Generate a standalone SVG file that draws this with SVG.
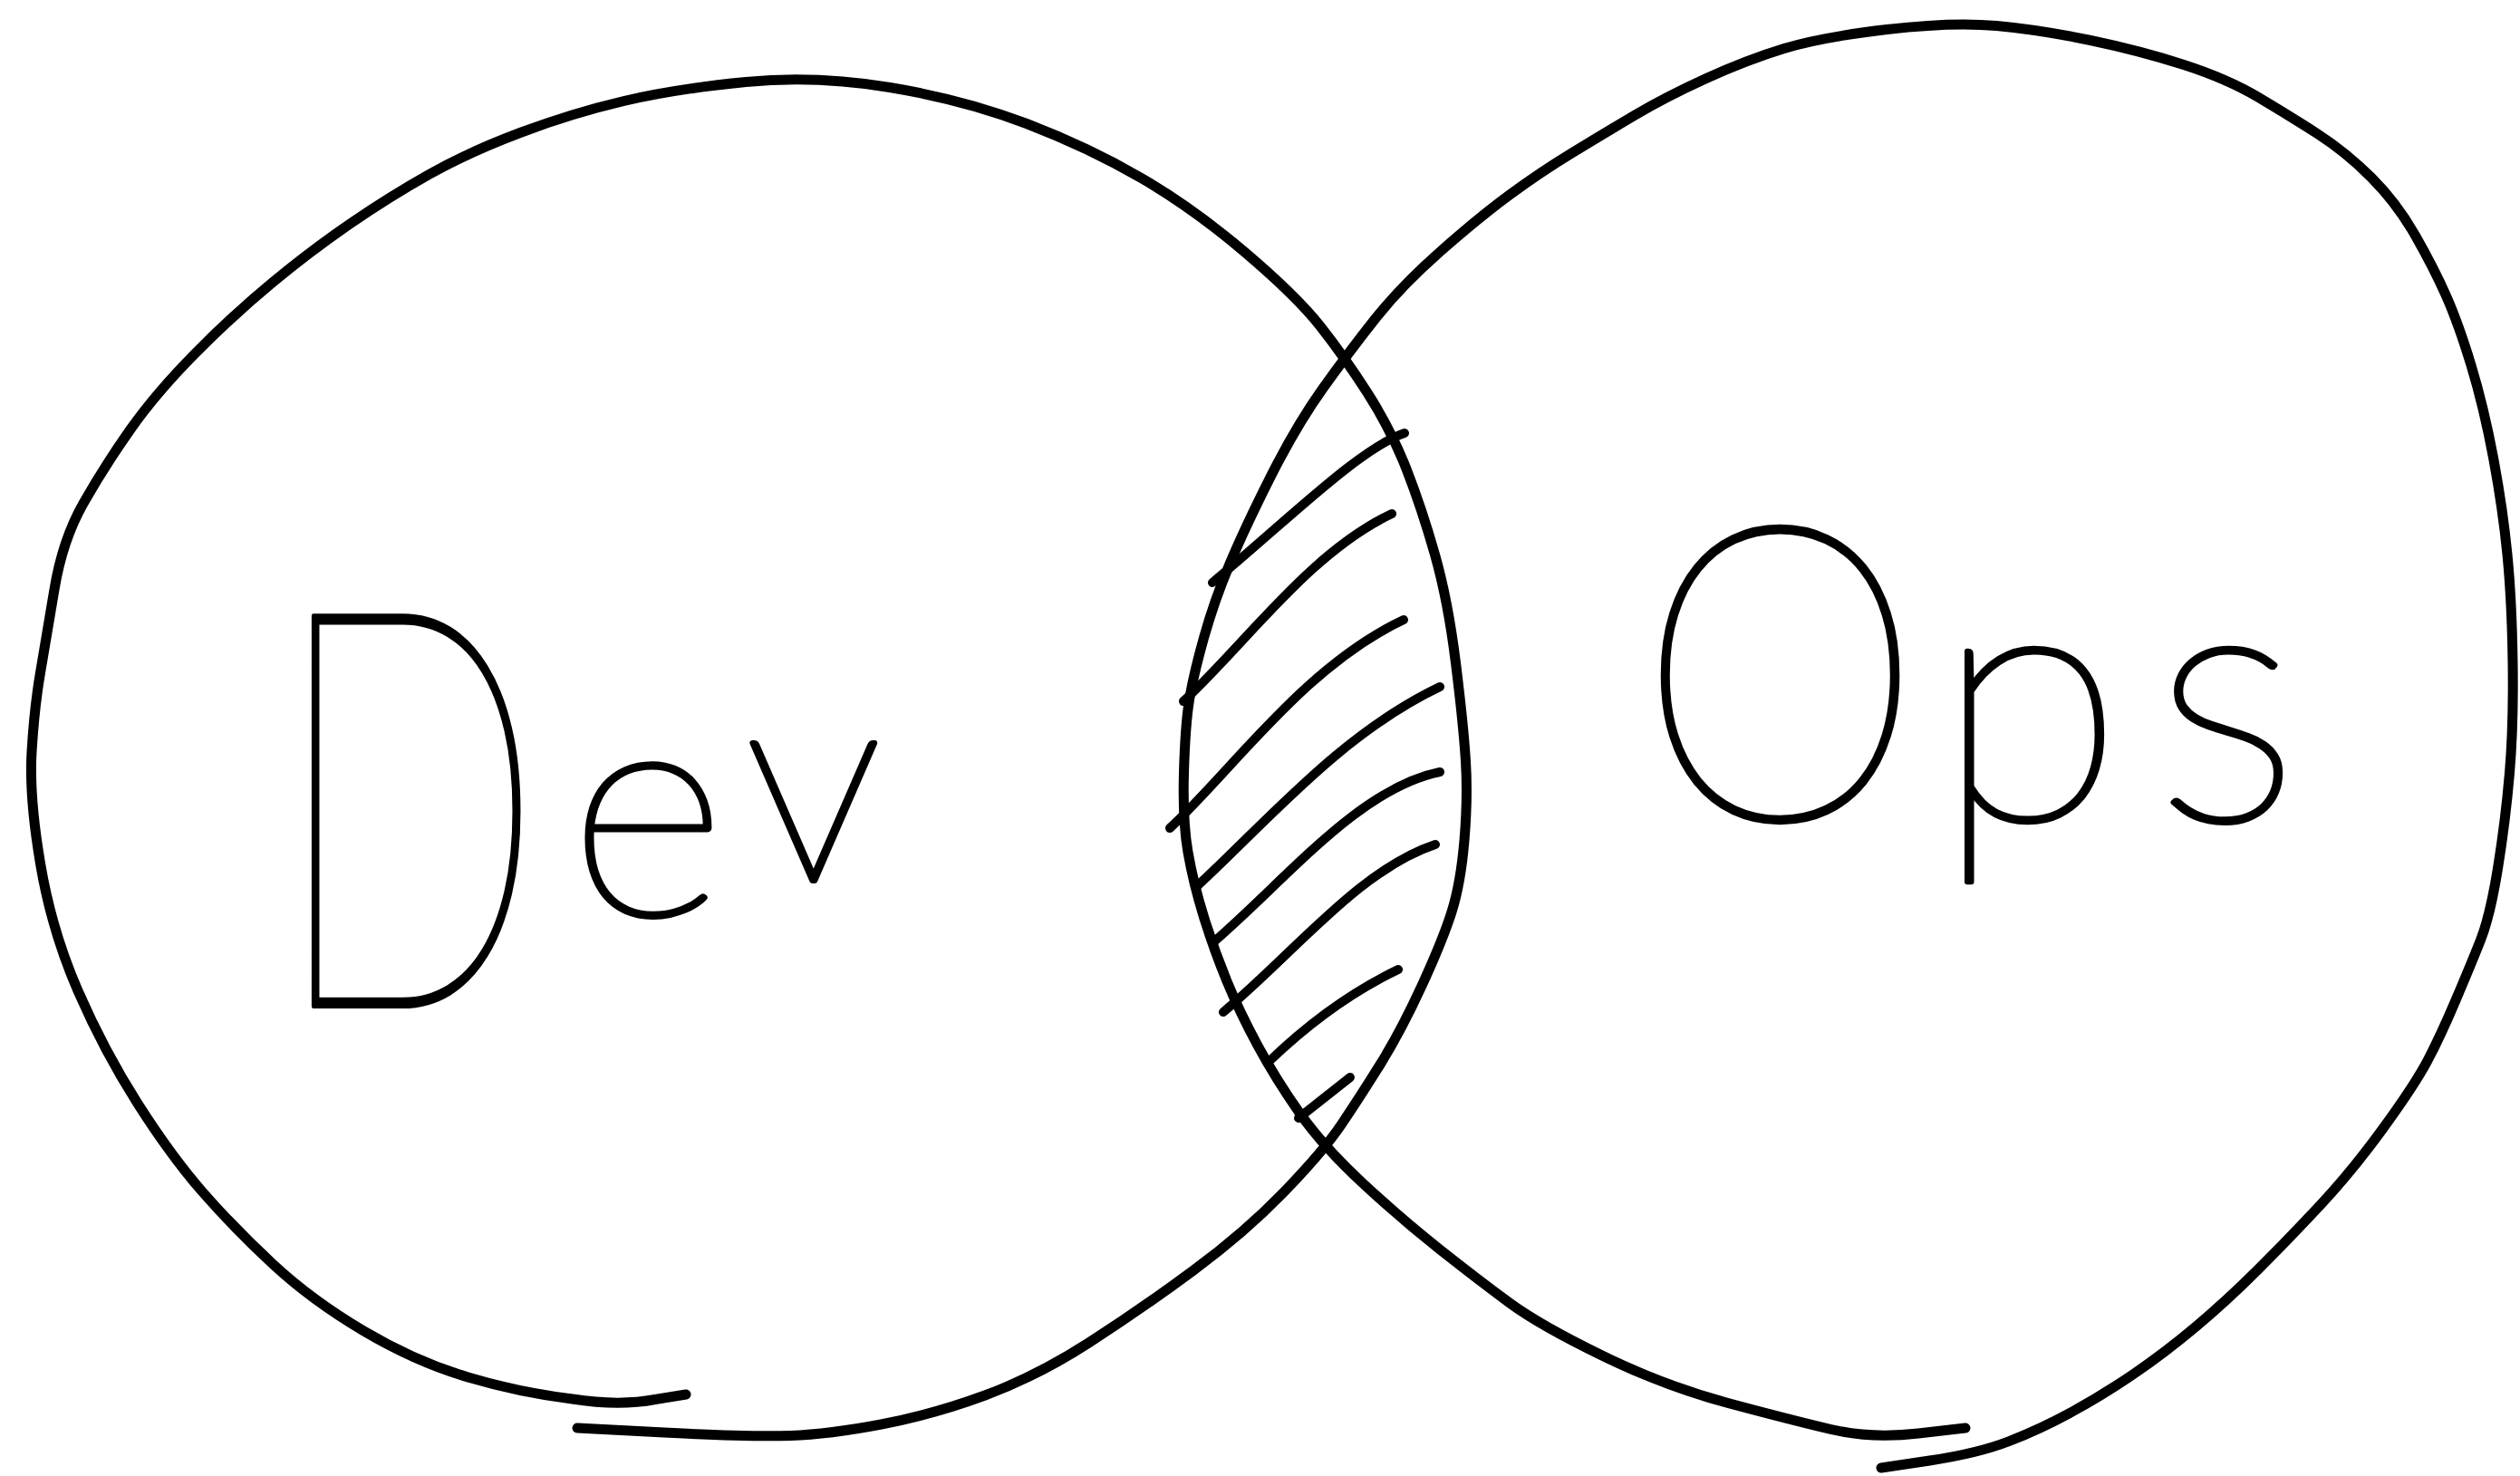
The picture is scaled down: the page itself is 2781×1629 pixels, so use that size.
<svg xmlns="http://www.w3.org/2000/svg" width="2781" height="1629" viewBox="0 0 2781 1629">
<style>
.ink{fill:none;stroke:#000;stroke-width:11;stroke-linecap:round;stroke-linejoin:round}
.hatch{fill:none;stroke:#000;stroke-width:10;stroke-linecap:round;stroke-linejoin:round}
.hand{font-family:Lato,Inter,"Open Sans","Liberation Sans",sans-serif;font-weight:100;fill:#000;stroke:#000;stroke-width:6;stroke-linejoin:round}
</style>
<rect width="2781" height="1629" fill="#fff"/>
<g id="dev">
<path class="ink" d="M757,1539 L723,1544.5 Q683,1552 631.5,1544 Q574,1537 516.5,1520 Q459,1503 401.5,1469 Q344,1435 301,1395 Q258,1355 223.5,1315.5 Q189,1276 152,1218 Q115,1160 86,1093.5 Q57,1027 44.5,953 Q32,879 35,829.5 Q38,780 44.5,742.5 Q51,705 60,650.5 Q69,596 92,555.5 Q115,515 143.5,474.5 Q172,434 215,390.5 Q258,347 301,311.5 Q344,276 387,246.5 Q430,217 473.5,192.5 Q517,168 574,146.5 Q631,125 688.5,111.5 Q746,98 823,90.5 Q900,83 982,96.5 Q1064,110 1133,136.5 Q1202,163 1259.5,196.5 Q1317,230 1374,278.5 Q1431,327 1457,360 Q1483,393 1509,433.5 Q1535,474 1552,517.5 Q1569,561 1583.5,612 Q1598,663 1606.5,731.5 Q1615,800 1617.5,840 Q1620,880 1616,927.5 Q1612,975 1602,1006.5 Q1592,1038 1569,1088 Q1546,1138 1523,1175 Q1500,1212 1480,1241.5 Q1460,1271 1417,1315.5 Q1374,1360 1316.5,1402.5 Q1259,1445 1201.5,1482 Q1144,1519 1087,1540 Q1030,1561 972.5,1572 Q915,1583 872,1584.5 Q829,1586 733,1581 L637,1576"/>
<text class="hand" y="1110"><tspan x="300" font-size="614" textLength="300" lengthAdjust="spacingAndGlyphs">D</tspan><tspan x="628" y="1010" font-size="335">e</tspan><tspan x="822" y="972" font-size="310">v</tspan></text>
</g>
<g id="ops">
<path class="ink" d="M2169,1576 L2117,1582 Q2065,1588 2020.5,1577.5 Q1976,1567 1907,1548.5 Q1838,1530 1769,1496.5 Q1700,1463 1666,1438 Q1632,1413 1589,1379 Q1546,1345 1503,1305 Q1460,1265 1434,1228 Q1408,1191 1388,1154 Q1368,1117 1354,1083 Q1340,1049 1328.5,1012 Q1317,975 1311,940.5 Q1305,906 1306.5,853 Q1308,800 1312.5,772.5 Q1317,745 1328.5,704 Q1340,663 1357,622.5 Q1374,582 1402.5,525.5 Q1431,469 1460,428.5 Q1489,388 1517.5,352 Q1546,316 1589,278 Q1632,240 1666,215 Q1700,190 1734.5,169 Q1769,148 1803.5,127.5 Q1838,107 1883,86.5 Q1928,66 1969,53.5 Q2010,41 2082.5,32.5 Q2155,24 2203.5,28.5 Q2252,33 2307,44.5 Q2362,56 2410,71.5 Q2458,87 2492.5,107.5 Q2527,128 2558,148 Q2589,168 2617,196 Q2645,224 2665.5,260 Q2686,296 2699.5,326.5 Q2713,357 2727,403 Q2741,449 2751.5,505 Q2762,561 2767,612 Q2772,663 2773,731.5 Q2774,800 2769.5,853 Q2765,906 2756.5,958.5 Q2748,1011 2737.5,1037.5 Q2727,1064 2710,1104 Q2693,1144 2679,1170.5 Q2665,1197 2630.5,1244.5 Q2596,1292 2561.5,1329 Q2527,1366 2492.5,1400.5 Q2458,1435 2423.5,1464 Q2389,1493 2354.5,1516.5 Q2320,1540 2286,1558.5 Q2252,1577 2217.5,1590.5 Q2183,1604 2129.5,1612 L2076,1620"/>
<text class="hand" y="904"><tspan x="1808" font-size="455" textLength="313" lengthAdjust="spacingAndGlyphs">O</tspan><tspan x="2136" y="905" font-size="380">p</tspan><tspan x="2378" y="905" font-size="380">s</tspan></text>
</g>
<g id="overlap">
<path class="hatch" d="M1338,643 C1420,575 1500,495 1550,478"/>
<path class="hatch" d="M1306,774 C1375,710 1445,610 1536,567"/>
<path class="hatch" d="M1291,914 C1360,850 1440,735 1549,684"/>
<path class="hatch" d="M1321,978 C1400,905 1480,810 1589,758"/>
<path class="hatch" d="M1339,1040 C1420,970 1500,870 1589,852"/>
<path class="hatch" d="M1350,1117 C1430,1050 1500,960 1584,932"/>
<path class="hatch" d="M1402,1170 Q1470,1105 1543,1070"/>
<path class="hatch" d="M1433,1234 L1490,1189"/>
</g>
</svg>
